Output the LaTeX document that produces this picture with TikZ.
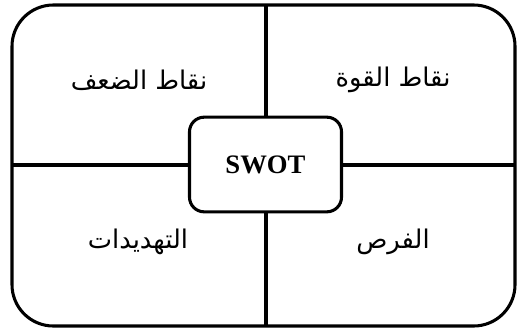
\documentclass[tikz,border=0pt]{standalone}
\usepackage{fontspec}
\setmainfont{Liberation Serif}
\newfontfamily\arabicfont[Script=Arabic]{DejaVu Sans}
\TeXXeTstate=1
\begin{document}
\begin{tikzpicture}[x=0.75pt,y=-0.75pt,
  frame/.style={line width=2.3pt, rounded corners=31pt},
  divline/.style={line width=2.3pt},
  centerbox/.style={draw, line width=2.3pt, fill=white, rounded corners=11pt, minimum width=114pt, minimum height=71pt, inner sep=0pt, font=\fontsize{20}{22}\selectfont\bfseries},
  lab/.style={font=\arabicfont\fontsize{19.3}{22}\selectfont, inner sep=0pt}]
\useasboundingbox (0,0) rectangle (517,333);
\draw[frame] (12,5) rectangle (515,326);
\coordinate (top) at (266,5);
\coordinate (bot) at (266,326);
\coordinate (lft) at (12,165);
\coordinate (rgt) at (515,165);
\draw[divline] (top) -- (bot);
\draw[divline] (lft) -- (rgt);
\node[centerbox] (swot) at (265.5,164.5) {SWOT};
\node[lab] (w) at (139,80) {\beginR نقاط الضعف\endR};
\node[lab] (s) at (393,80) {\beginR نقاط القوة\endR};
\node[lab] (t) at (138,242) {\beginR التهديدات\endR};
\node[lab] (o) at (393,242) {\beginR الفرص\endR};
\end{tikzpicture}
\end{document}
